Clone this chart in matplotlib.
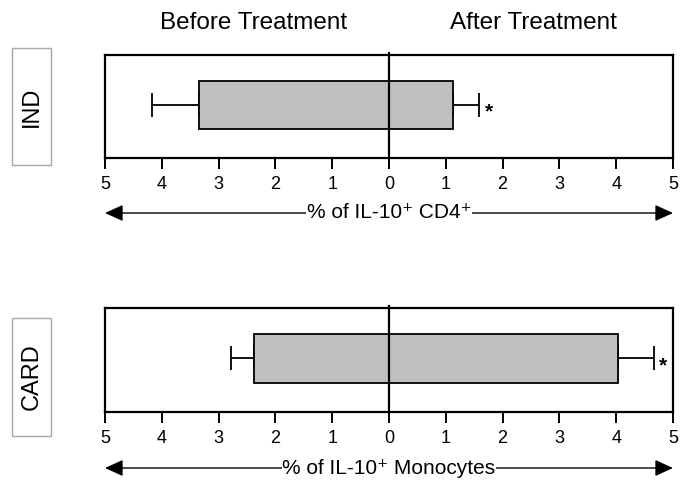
import matplotlib
matplotlib.use("Agg")
import matplotlib.pyplot as plt
from matplotlib.patches import Rectangle, FancyArrowPatch

plt.rcParams['font.family'] = ['Liberation Sans', 'DejaVu Sans']

# Data: mean % of IL-10+ cells before / after treatment, with one-sided errors
groups = ['IND', 'CARD']
before_mean = [3.34, 2.37]
before_err = [0.83, 0.41]
after_mean = [1.12, 4.04]
after_err = [0.46, 0.62]
axis_labels = ['% of IL-10\u207a CD4\u207a', '% of IL-10\u207a Monocytes']
significant = ['*', '*']
tick_vals = [-5, -4, -3, -2, -1, 0, 1, 2, 3, 4, 5]
tick_text = [str(abs(v)) for v in tick_vals]

W, H = 682, 487
fig = plt.figure(figsize=(W / 100, H / 100), dpi=100)

def fx(px):
    return px / W

def fy(py):
    return 1 - py / H

# panel geometry in pixels: (top, bottom) of the plot box
panels = [(55, 158), (308, 412)]
label_boxes = [(48, 165), (318, 436)]
arrow_y = [213, 468]
left_px, right_px = 105, 673

bar_y = 0.515
bar_h = 0.47

for i, g in enumerate(groups):
    top, bot = panels[i]
    ax = fig.add_axes([fx(left_px), fy(bot), fx(right_px - left_px), (bot - top) / H])
    ax.set_xlim(-5, 5)
    ax.set_ylim(0, 1)
    ax.barh(bar_y, -before_mean[i], height=bar_h, color='#c0c0c0',
            edgecolor='black', linewidth=1.3, zorder=2)
    ax.barh(bar_y, after_mean[i], height=bar_h, color='#c0c0c0',
            edgecolor='black', linewidth=1.3, zorder=2)
    ax.errorbar(-before_mean[i], bar_y, xerr=[[before_err[i]], [0]], fmt='none',
                ecolor='black', elinewidth=1.3, capsize=8.5, capthick=1.3, zorder=1)
    ax.errorbar(after_mean[i], bar_y, xerr=[[0], [after_err[i]]], fmt='none',
                ecolor='black', elinewidth=1.3, capsize=8.5, capthick=1.3, zorder=1)
    ax.text(after_mean[i] + after_err[i] + 0.1, bar_y - 0.07, significant[i],
            ha='left', va='center', fontsize=15, fontweight='bold')
    ax.axvline(0, ymin=0, ymax=1.02, color='black', linewidth=1.6, clip_on=False, zorder=3)
    for s in ax.spines.values():
        s.set_linewidth(1.6)
    ax.set_yticks([])
    ax.set_xticks(tick_vals)
    ax.set_xticklabels(tick_text, fontsize=13)
    ax.tick_params(axis='x', direction='out', length=8, width=1.4, pad=5)

    # group label in a grey frame
    lt, lb = label_boxes[i]
    fig.patches.append(Rectangle((fx(12), fy(lb)), fx(51 - 12), (lb - lt) / H,
                                 transform=fig.transFigure, facecolor='white',
                                 edgecolor='#a8a8a8', linewidth=1.0))
    fig.text(fx(31.5), fy((lt + lb) / 2), g, rotation=90, ha='center', va='center',
             fontsize=17)

    # double-headed axis arrow with centred label
    ay = fy(arrow_y[i])
    fig.patches.append(FancyArrowPatch((fx(left_px), ay), (fx(right_px), ay),
                                       transform=fig.transFigure,
                                       arrowstyle='<|-|>,head_length=11,head_width=5',
                                       color='black', linewidth=1.0,
                                       shrinkA=0, shrinkB=0, mutation_scale=1))
    fig.text(fx((left_px + right_px) / 2), ay, axis_labels[i], ha='center', va='center',
             fontsize=15, bbox=dict(facecolor='white', edgecolor='none', pad=0.3))

fig.text(fx(254), fy(23), 'Before Treatment', ha='center', va='center', fontsize=17.5)
fig.text(fx(533), fy(23), 'After Treatment', ha='center', va='center', fontsize=17.5)

fig.savefig('out.png', dpi=100)
